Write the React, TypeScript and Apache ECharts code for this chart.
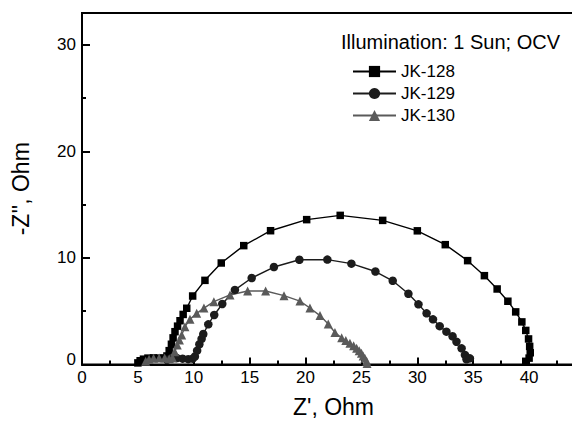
import React, { useEffect, useRef } from "react";
import * as echarts from "echarts";

const seriesNames = ["JK-128", "JK-129", "JK-130"];
const titleText = "Illumination: 1 Sun; OCV";
const xTickValues = [0, 5, 10, 15, 20, 25, 30, 35, 40];

const jk128: number[][] = [
  [5.0, 0.15], [5.2, 0.35], [5.5, 0.5], [5.9, 0.6], [6.4, 0.62], [6.9, 0.6], [7.3, 0.6],
  [7.6, 0.8], [7.8, 1.3], [8.0, 1.9], [8.15, 2.5], [8.32, 3.08], [8.55, 3.6], [8.77, 4.11],
  [9.05, 4.7], [9.37, 5.28], [9.9, 6.43], [11.0, 7.9], [12.46, 9.53], [14.47, 11.16],
  [16.87, 12.56], [20.1, 13.6], [23.1, 14.0], [26.9, 13.53], [30.0, 12.55], [32.5, 11.25],
  [34.5, 9.75], [36.0, 8.34], [37.14, 7.09], [38.1, 5.94], [38.8, 4.94], [39.35, 4.0],
  [39.7, 3.2], [39.95, 2.4], [40.05, 1.7], [40.1, 1.1], [40.0, 0.6], [39.7, 0.3],
];

const jk129: number[][] = [
  [7.6, 0.45], [8.0, 0.55], [8.5, 0.6], [9.0, 0.55], [9.5, 0.5], [9.9, 0.55], [10.1, 0.75],
  [10.3, 1.3], [10.5, 1.9], [10.7, 2.4], [10.85, 2.86], [11.3, 3.77], [11.83, 4.65],
  [12.55, 5.68], [13.68, 7.0], [15.18, 8.12], [17.17, 9.15], [19.45, 9.83], [21.95, 9.85],
  [24.1, 9.47], [26.25, 8.73], [27.8, 7.86], [29.2, 6.64], [30.1, 5.65], [30.83, 4.8],
  [31.4, 4.24], [32.0, 3.6], [32.6, 3.08], [33.15, 2.65], [33.5, 2.14], [33.96, 1.52],
  [34.26, 0.9], [34.4, 0.49], [34.7, 0.58],
];

const jk130: number[][] = [
  [5.7, 0.3], [6.0, 0.5], [6.4, 0.58], [6.9, 0.6], [7.4, 0.6], [7.8, 0.55], [8.1, 0.6],
  [8.3, 1.2], [8.52, 1.83], [8.72, 2.3], [8.92, 2.77], [9.21, 3.55], [9.66, 4.24],
  [10.26, 4.8], [10.91, 5.3], [11.8, 5.9], [13.24, 6.53], [14.82, 6.9], [16.43, 6.9],
  [18.07, 6.46], [19.5, 5.95], [20.39, 5.3], [21.29, 4.59], [22.03, 3.8], [22.63, 3.0],
  [23.23, 2.5], [23.6, 2.25], [23.97, 1.99], [24.3, 1.75], [24.57, 1.52], [24.8, 1.3],
  [25.0, 1.05], [25.15, 0.8], [25.31, 0.58], [25.47, 0.3], [25.5, 0.1],
];

const FONT = "'Liberation Sans', Arial, sans-serif";

export default function App() {
  const ref = useRef<HTMLDivElement>(null);
  useEffect(() => {
    if (!ref.current) return;
    const chart = echarts.init(ref.current, undefined, { renderer: "svg" });
    const mk = (name: string, data: number[][], symbol: string, size: number, color: string) => ({
      name,
      type: "line",
      data,
      symbol,
      symbolSize: size,
      showSymbol: true,
      lineStyle: { color, width: 1.4 },
      itemStyle: { color },
      z: 3,
    });
    chart.setOption({
      animation: false,
      backgroundColor: "#fff",
      textStyle: { fontFamily: FONT },
      grid: {
        left: 82,
        top: 13,
        right: -13,
        bottom: 56.5,
        show: true,
        borderColor: "#000",
        borderWidth: 2,
        backgroundColor: "transparent",
        containLabel: false,
        outerBoundsMode: "none",
      },
      legend: {
        orient: "vertical",
        left: 347,
        top: 58,
        itemWidth: 43,
        itemHeight: 14,
        itemGap: 5,
        data: seriesNames,
        lineStyle: { width: 2 },
        textStyle: { fontFamily: FONT, fontSize: 17, color: "#000" },
      },
      graphic: [
        {
          type: "text",
          left: 341,
          top: 32,
          style: { text: titleText, fontFamily: FONT, fontSize: 20, fill: "#000" },
        },
      ],
      xAxis: {
        type: "value",
        min: 0,
        max: 45,
        interval: 5,
        name: "Z', Ohm",
        nameLocation: "middle",
        nameGap: 31,
        nameTextStyle: { fontFamily: FONT, fontSize: 23, color: "#000" },
        axisLine: { show: true, onZero: false, lineStyle: { color: "#000", width: 2 } },
        axisTick: { show: true, inside: true, length: 7, lineStyle: { color: "#000", width: 2 } },
        minorTick: { show: true, splitNumber: 2, length: 4, lineStyle: { color: "#000", width: 2 } },
        splitLine: { show: false },
        axisLabel: {
          margin: 4,
          fontFamily: FONT,
          fontSize: 17,
          color: "#000",
          formatter: (v: number) => (xTickValues.includes(v) ? String(v) : ""),
        },
      },
      yAxis: [
        {
          type: "value",
          min: 0,
          max: 33,
          interval: 10,
          name: "-Z'', Ohm",
          nameLocation: "middle",
          nameGap: 50,
          nameTextStyle: { fontFamily: FONT, fontSize: 23, color: "#000" },
          axisLine: { show: true, onZero: false, lineStyle: { color: "#000", width: 2 } },
          axisTick: { show: true, inside: true, length: 8, lineStyle: { color: "#000", width: 2 } },
          splitLine: { show: false },
          axisLabel: {
            margin: 6,
            showMaxLabel: false,
            fontFamily: FONT,
            fontSize: 17,
            color: "#000",
            formatter: (v: number) => (v === 0 ? "{z|0}" : String(v)),
            rich: { z: { fontFamily: FONT, fontSize: 17, color: "#000", padding: [0, 0, 10, 0] } },
          },
        },
        {
          type: "value",
          min: 0,
          max: 33,
          interval: 5,
          position: "left",
          axisLine: { show: false },
          axisTick: { show: true, inside: true, length: 4, lineStyle: { color: "#000", width: 2 } },
          axisLabel: { show: false },
          splitLine: { show: false },
        },
      ],
      series: [
        mk(seriesNames[0], jk128, "rect", 7.5, "#000000"),
        mk(seriesNames[1], jk129, "circle", 8.5, "#1c1c1c"),
        mk(seriesNames[2], jk130, "triangle", 9, "#5a5a5a"),
      ],
    });
    return () => chart.dispose();
  }, []);
  return (
    <div
      ref={ref}
      style={{ position: "absolute", left: 0, top: 0, width: 572, height: 421 }}
    />
  );
}
